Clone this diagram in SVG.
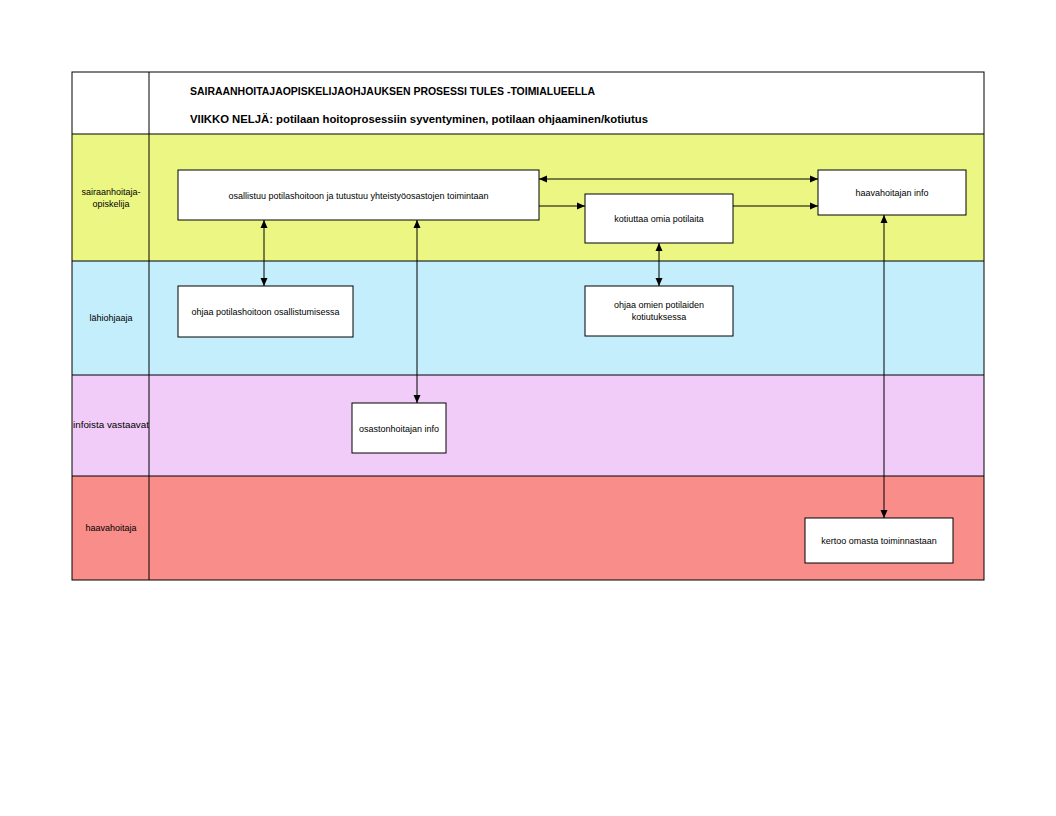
<svg xmlns="http://www.w3.org/2000/svg" width="1056" height="816" viewBox="0 0 1056 816">
<style>
.t{font-family:"Liberation Sans",Arial,sans-serif;font-size:9px;fill:#000;text-anchor:middle}
.h{font-family:"Liberation Sans",Arial,sans-serif;font-size:11px;font-weight:bold;fill:#000}
.box{fill:#fff;stroke:#000;stroke-width:1}
.ln{stroke:#000;stroke-width:1;fill:none}
.c{stroke:#000;stroke-width:1;fill:none;marker-end:url(#ah)}
.cb{stroke:#000;stroke-width:1;fill:none;marker-start:url(#as);marker-end:url(#ah)}
</style>
<defs>
<marker id="ah" viewBox="0 0 8 8" refX="8" refY="4" markerWidth="8" markerHeight="8" markerUnits="userSpaceOnUse" orient="auto"><path d="M0,0.5 L8,4 L0,7.5 Z" fill="#000"/></marker>
<marker id="as" viewBox="0 0 8 8" refX="0" refY="4" markerWidth="8" markerHeight="8" markerUnits="userSpaceOnUse" orient="auto"><path d="M8,0.5 L0,4 L8,7.5 Z" fill="#000"/></marker>
</defs>
<rect width="1056" height="816" fill="#fff"/>
<g id="lanes">
<rect x="72" y="72" width="912" height="62" fill="#fff"/>
<rect x="72" y="134" width="912" height="127" fill="#ECF783"/>
<rect x="72" y="261" width="912" height="114" fill="#C4EEFB"/>
<rect x="72" y="375" width="912" height="101" fill="#F1CCF8"/>
<rect x="72" y="476" width="912" height="104" fill="#F98D89"/>
<rect x="72" y="72" width="912" height="508" class="ln"/>
<line x1="149" y1="72" x2="149" y2="580" class="ln"/>
<line x1="72" y1="134" x2="984" y2="134" class="ln"/>
<line x1="72" y1="261" x2="984" y2="261" class="ln"/>
<line x1="72" y1="375" x2="984" y2="375" class="ln"/>
<line x1="72" y1="476" x2="984" y2="476" class="ln"/>
<text class="h" x="190" y="95" textLength="405" lengthAdjust="spacingAndGlyphs">SAIRAANHOITAJAOPISKELIJAOHJAUKSEN PROSESSI TULES -TOIMIALUEELLA</text>
<text class="h" x="190" y="123" textLength="458" lengthAdjust="spacingAndGlyphs">VIIKKO NELJÄ: potilaan hoitoprosessiin syventyminen, potilaan ohjaaminen/kotiutus</text>
<text class="t" x="111" y="195">sairaanhoitaja-</text>
<text class="t" x="111" y="207">opiskelija</text>
<text class="t" x="111" y="321">lähiohjaaja</text>
<text class="t" x="111" y="428" textLength="76" lengthAdjust="spacingAndGlyphs">infoista vastaavat</text>
<text class="t" x="111" y="531">haavahoitaja</text>
</g>
<g id="connectors">
<line x1="539" y1="179" x2="818" y2="179" class="cb"/>
<line x1="539" y1="206" x2="585" y2="206" class="c"/>
<line x1="733" y1="206" x2="818" y2="206" class="c"/>
<line x1="264" y1="220" x2="264" y2="286" class="cb"/>
<line x1="417" y1="220" x2="417" y2="403" class="cb"/>
<line x1="659" y1="243" x2="659" y2="286" class="cb"/>
<line x1="884" y1="215" x2="884" y2="518" class="cb"/>
</g>
<g id="nodeA"><rect x="178" y="170" width="361" height="50" class="box"/><text class="t" x="358.5" y="199">osallistuu potilashoitoon ja tutustuu yhteistyöosastojen toimintaan</text></g>
<g id="nodeB"><rect x="585" y="194" width="148" height="49" class="box"/><text class="t" x="659" y="222">kotiuttaa omia potilaita</text></g>
<g id="nodeC"><rect x="818" y="170" width="148" height="45" class="box"/><text class="t" x="892" y="196">haavahoitajan info</text></g>
<g id="nodeD"><rect x="178" y="286" width="175" height="51" class="box"/><text class="t" x="265.5" y="315">ohjaa potilashoitoon osallistumisessa</text></g>
<g id="nodeE"><rect x="585" y="286" width="148" height="50" class="box"/><text class="t" x="659" y="308">ohjaa omien potilaiden</text><text class="t" x="659" y="320">kotiutuksessa</text></g>
<g id="nodeF"><rect x="352" y="403" width="94" height="50" class="box"/><text class="t" x="399" y="432">osastonhoitajan info</text></g>
<g id="nodeG"><rect x="805" y="518" width="148" height="45" class="box"/><text class="t" x="879" y="544">kertoo omasta toiminnastaan</text></g>
</svg>
